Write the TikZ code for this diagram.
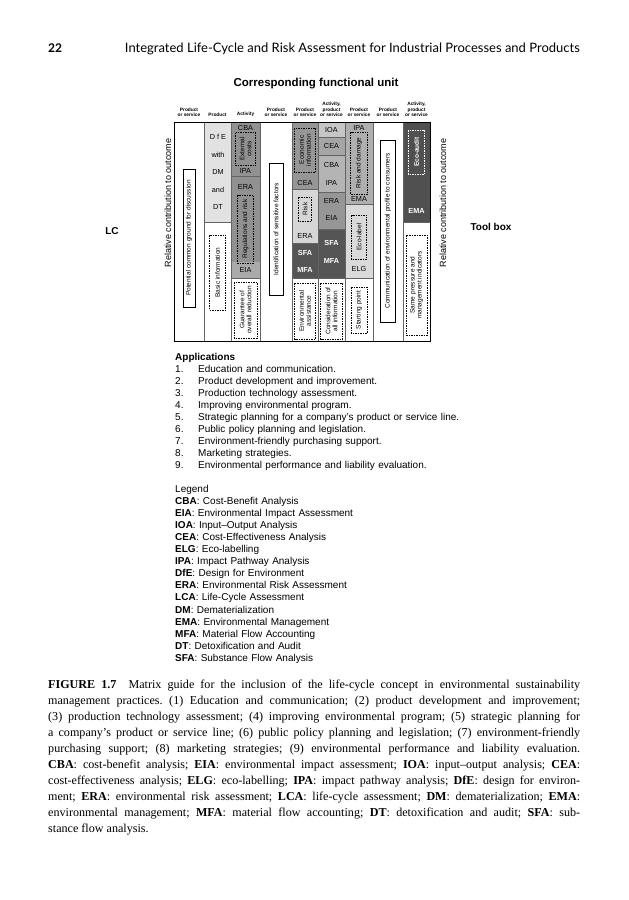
\documentclass[tikz,border=0pt]{standalone}
\usepackage{fontspec}
\setmainfont{Liberation Serif}
\newfontfamily\diafont{Liberation Sans}
\newfontfamily\runfont{Lato}
\usepackage{xcolor}
\usepackage{tikz}
\definecolor{prodlight}{RGB}{226,226,226}
\definecolor{actgray}{RGB}{145,145,145}
\definecolor{eiagray}{RGB}{170,170,170}
\definecolor{econgray}{RGB}{150,150,150}
\definecolor{risklight}{RGB}{214,214,214}
\definecolor{flowdark}{RGB}{85,85,85}
\definecolor{ioagray}{RGB}{198,198,198}
\definecolor{ceagray}{RGB}{165,165,165}
\definecolor{cbagray}{RGB}{180,180,180}
\definecolor{eragray}{RGB}{150,150,150}
\definecolor{ipagray}{RGB}{175,175,175}
\definecolor{ecolight}{RGB}{218,218,218}
\definecolor{emadark}{RGB}{80,80,80}
\definecolor{rulegray}{RGB}{100,100,100}
\tikzset{
  colhead/.style={anchor=south, align=center, inner sep=0pt, font=\diafont\bfseries\fontsize{4.8}{5.6}\selectfont},
  tool/.style={inner sep=0pt, font=\diafont\fontsize{7.3}{8}\selectfont},
  tooldark/.style={inner sep=0pt, text=white, font=\diafont\bfseries\fontsize{7.3}{8}\selectfont},
  dashbox/.style={draw, dash pattern=on 1.5pt off 1pt, line width=0.6pt, rotate=90, align=center, inner sep=0.8pt, font=\diafont\fontsize{6.5}{7}\selectfont},
  solidbox/.style={draw, line width=0.6pt, rotate=90, align=center, inner sep=0.8pt, font=\diafont\fontsize{6.5}{7}\selectfont},
  sideaxis/.style={rotate=90, inner sep=0pt, font=\diafont\fontsize{9}{11}\selectfont},
  sep/.style={draw=rulegray, line width=0.5pt},
}

\begin{document}
\begin{tikzpicture}[x=1pt, y=-1pt]
  \useasboundingbox (0,0) rectangle (629,900);

  % Running head
  \node[anchor=base west, inner sep=0pt, font=\runfont\bfseries\fontsize{12}{14}\selectfont] (pageno) at (48,52) {22};
  \node[anchor=base east, inner sep=0pt, font=\runfont\fontsize{13}{15}\selectfont] (runhead) at (580,52) {Integrated Life-Cycle and Risk Assessment for Industrial Processes and Products};

  % Title and column heads
  \node[inner sep=0pt, font=\diafont\bfseries\fontsize{11.5}{13}\selectfont] (unit) at (316,84) {Corresponding functional unit};
  \node[colhead] (h1) at (189,117) {Product\\or service};
  \node[colhead] (h2) at (217.5,117) {Product};
  \node[colhead] (h3) at (245.5,117) {Activity};
  \node[colhead] (h4) at (276,117) {Product\\or service};
  \node[colhead] (h5) at (305,117) {Product\\or service};
  \node[colhead] (h6) at (331.5,117) {Activity,\\product\\or service};
  \node[colhead] (h7) at (359,117) {Product\\or service};
  \node[colhead] (h8) at (388,117) {Product\\or service};
  \node[colhead] (h9) at (416.5,117) {Activity,\\product\\or service};

  % Cell shading
  \fill[prodlight] (204,122) rectangle (231,222);
  \fill[actgray] (231,122) rectangle (260,262);
  \fill[eiagray] (231,262) rectangle (260,278);
  \fill[econgray] (292,122) rectangle (318,189);
  \fill[risklight] (292,189) rectangle (318,243);
  \fill[flowdark] (292,243) rectangle (318,278);
  \fill[ioagray] (318,122) rectangle (345,137);
  \fill[ceagray] (318,137) rectangle (345,155);
  \fill[cbagray] (318,155) rectangle (345,192);
  \fill[eragray] (318,192) rectangle (345,229);
  \fill[flowdark] (318,229) rectangle (345,278);
  \fill[ipagray] (345,122) rectangle (373,204);
  \fill[ecolight] (345,204) rectangle (373,278);
  \fill[emadark] (403,122) rectangle (430,222);

  % Cell borders
  \draw[sep] (204,222) -- (231,222)
    (231,176) -- (260,176) (231,278) -- (260,278)
    (292,189) -- (318,189) (292,243) -- (318,243) (292,278) -- (318,278)
    (318,137) -- (345,137) (318,155) -- (345,155) (318,192) -- (345,192)
    (318,229) -- (345,229) (318,278) -- (345,278)
    (345,204) -- (373,204) (345,278) -- (373,278)
    (403,222) -- (430,222);
  \draw[sep] (204,122) -- (204,341) (231,122) -- (231,341) (260,122) -- (260,341)
    (292,122) -- (292,341) (318,122) -- (318,341) (345,122) -- (345,341)
    (373,122) -- (373,341) (403,122) -- (403,341);
  \draw[line width=0.9pt] (174,122) rectangle (430,341);

  % Product column
  \node[tool] (dfe) at (218,137) {D f E};
  \node[tool] (with) at (218,154.5) {with};
  \node[tool] (dm) at (218,172) {DM};
  \node[tool] (and) at (218,189.5) {and};
  \node[tool] (dt) at (218,207) {DT};

  % Tools in the cells
  \node[tool] (acba) at (245.5,127.5) {CBA};
  \node[tool] (aipa) at (245.5,171) {IPA};
  \node[tool] (aera) at (245.5,187) {ERA};
  \node[tool] (aeia) at (245.5,270) {EIA};
  \node[tool] (ecea) at (305,183) {CEA};
  \node[tool] (eera) at (305,236) {ERA};
  \node[tooldark] (esfa) at (305,253) {SFA};
  \node[tooldark] (emfa) at (305,270) {MFA};
  \node[tool] (pioa) at (331.5,129.5) {IOA};
  \node[tool] (pcea) at (331.5,146) {CEA};
  \node[tool] (pcba) at (331.5,165) {CBA};
  \node[tool] (pipa) at (331.5,183) {IPA};
  \node[tool] (pera) at (331.5,201) {ERA};
  \node[tool] (peia) at (331.5,218) {EIA};
  \node[tooldark] (psfa) at (331.5,243) {SFA};
  \node[tooldark] (pmfa) at (331.5,261) {MFA};
  \node[tool] (ripa) at (359,127.5) {IPA};
  \node[tool] (rema) at (359,199) {EMA};
  \node[tool] (relg) at (359,269) {ELG};
  \node[tooldark] (tema) at (416.5,211) {EMA};

  % Boxed notes
  \node[solidbox, minimum width=138, minimum height=12] (common) at (189,238) {Potential common ground for discussion};
  \node[dashbox, minimum width=75, minimum height=16] (basic) at (217.5,272.5) {Basic information};
  \node[dashbox, minimum width=33, minimum height=20] (extcost) at (245.5,149) {External\\costs};
  \node[dashbox, minimum width=68, minimum height=16] (regrisk) at (245.5,229) {Regulations and risk};
  \node[dashbox, minimum width=56, minimum height=23] (guarant) at (245.5,310) {Guarantee of\\overall reduction};
  \node[solidbox, minimum width=132, minimum height=14] (sensit) at (276,229) {Identification of sensitive factors};
  \node[dashbox, minimum width=44, minimum height=21] (econinfo) at (305,150) {Economic\\information};
  \node[dashbox, minimum width=24, minimum height=13] (risk) at (305,209) {Risk};
  \node[dashbox, minimum width=56, minimum height=21] (envassist) at (305,311) {Environmental\\assistance};
  \node[dashbox, minimum width=56, minimum height=22] (allinfo) at (331.5,311) {Consideration of\\all information};
  \node[dashbox, minimum width=62, minimum height=17] (riskdam) at (359,163) {Risk and damage};
  \node[dashbox, minimum width=44, minimum height=15] (ecolabel) at (359,237) {Eco-label};
  \node[dashbox, minimum width=46, minimum height=16] (startpt) at (359,310) {Starting point};
  \node[solidbox, minimum width=182, minimum height=15] (profile) at (388,231) {Communication of environmental profile to consumers};
  \node[dashbox, draw=white, text=white, font=\diafont\bfseries\fontsize{6.5}{7}\selectfont, minimum width=44, minimum height=16] (ecoaudit) at (416.5,152) {Eco-audit};
  \node[dashbox, minimum width=100, minimum height=21] (samepress) at (416.5,285) {Same pressure and\\management indicators};

  % Side labels
  \node[sideaxis] (relleft) at (168,203) {Relative contribution to outcome};
  \node[sideaxis] (relright) at (443,203) {Relative contribution to outcome};
  \node[inner sep=0pt, font=\diafont\bfseries\fontsize{10}{12}\selectfont] (lc) at (112,231) {LC};
  \node[inner sep=0pt, font=\diafont\bfseries\fontsize{10}{12}\selectfont] (toolbox) at (491,227) {Tool box};

  % Applications
  \node[anchor=base west, text width=330pt, align=left, inner sep=0pt, font=\diafont\fontsize{10}{12.1}\selectfont] (apps) at (175,360) {\textbf{Applications}\\
    \makebox[23pt][l]{1.}Education and communication.\\
    \makebox[23pt][l]{2.}Product development and improvement.\\
    \makebox[23pt][l]{3.}Production technology assessment.\\
    \makebox[23pt][l]{4.}Improving environmental program.\\
    \makebox[23pt][l]{5.}Strategic planning for a company’s product or service line.\\
    \makebox[23pt][l]{6.}Public policy planning and legislation.\\
    \makebox[23pt][l]{7.}Environment-friendly purchasing support.\\
    \makebox[23pt][l]{8.}Marketing strategies.\\
    \makebox[23pt][l]{9.}Environmental performance and liability evaluation.};

  % Legend
  \node[anchor=base west, text width=330pt, align=left, inner sep=0pt, font=\diafont\fontsize{10}{12.1}\selectfont] (legend) at (175,492) {Legend\\
    \textbf{CBA}: Cost-Benefit Analysis\\
    \textbf{EIA}: Environmental Impact Assessment\\
    \textbf{IOA}: Input–Output Analysis\\
    \textbf{CEA}: Cost-Effectiveness Analysis\\
    \textbf{ELG}: Eco-labelling\\
    \textbf{IPA}: Impact Pathway Analysis\\
    \textbf{DfE}: Design for Environment\\
    \textbf{ERA}: Environmental Risk Assessment\\
    \textbf{LCA}: Life-Cycle Assessment\\
    \textbf{DM}: Dematerialization\\
    \textbf{EMA}: Environmental Management\\
    \textbf{MFA}: Material Flow Accounting\\
    \textbf{DT}: Detoxification and Audit\\
    \textbf{SFA}: Substance Flow Analysis};

  % Caption
  \node[anchor=base west, text width=532pt, align=justify, inner sep=0pt, font=\fontsize{12.1}{16}\selectfont] (caption) at (48,688) {\frenchspacing\emergencystretch=2em \textbf{FIGURE 1.7}\quad Matrix guide for the inclusion of the life-cycle concept in environmental sustainability\linebreak
    management practices. (1) Education and communication; (2) product development and improvement;\linebreak
    (3) production technology assessment; (4) improving environmental program; (5) strategic planning for\linebreak
    a company’s product or service line; (6) public policy planning and legislation; (7) environment-friendly\linebreak
    purchasing support; (8) marketing strategies; (9) environmental performance and liability evaluation.\linebreak
    \textbf{CBA}: cost-benefit analysis; \textbf{EIA}: environmental impact assessment; \textbf{IOA}: input–output analysis; \textbf{CEA}:\linebreak
    cost-effectiveness analysis; \textbf{ELG}: eco-labelling; \textbf{IPA}: impact pathway analysis; \textbf{DfE}: design for environ-\linebreak
    ment; \textbf{ERA}: environmental risk assessment; \textbf{LCA}: life-cycle assessment; \textbf{DM}: dematerialization; \textbf{EMA}:\linebreak
    environmental management; \textbf{MFA}: material flow accounting; \textbf{DT}: detoxification and audit; \textbf{SFA}: sub-\linebreak
    stance flow analysis.};
\end{tikzpicture}
\end{document}
